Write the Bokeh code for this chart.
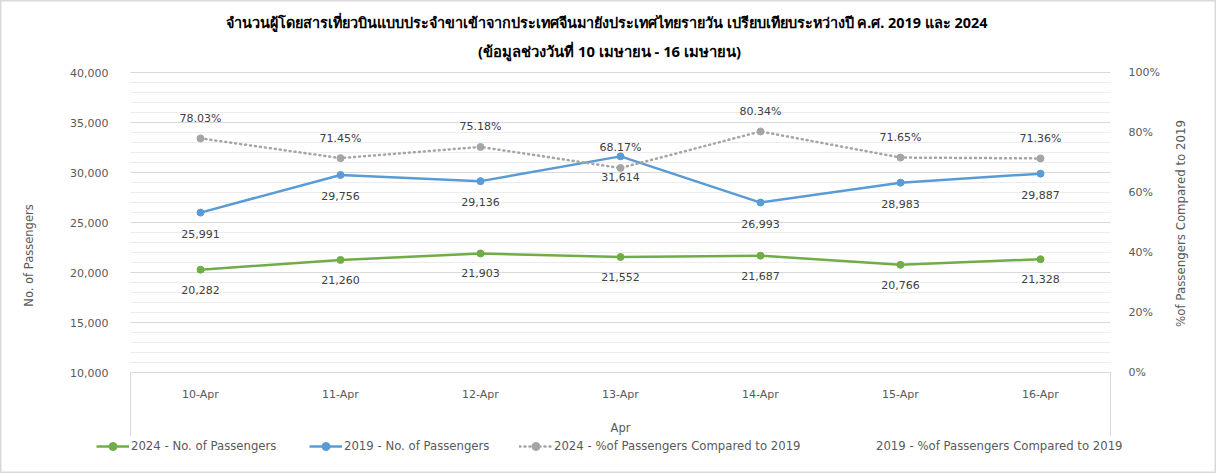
import math
from bokeh.plotting import figure
from bokeh.models import (Range1d, LinearAxis, FixedTicker, NumeralTickFormatter,
                          PrintfTickFormatter, Label, Legend, LegendItem, ColumnDataSource)
from bokeh.core.properties import value
from bokeh.embed import file_html
from bokeh.resources import INLINE

# ---------------- data ----------------
days = ["10-Apr", "11-Apr", "12-Apr", "13-Apr", "14-Apr", "15-Apr", "16-Apr"]
pax_2024 = [20282, 21260, 21903, 21552, 21687, 20766, 21328]
pax_2019 = [25991, 29756, 29136, 31614, 26993, 28983, 29887]
pct_2024 = [78.03, 71.45, 75.18, 68.17, 80.34, 71.65, 71.36]
left_ticks = [10000, 15000, 20000, 25000, 30000, 35000, 40000]
right_ticks = [0, 20, 40, 60, 80, 100]
title_1 = "จำนวนผู้โดยสารเที่ยวบินแบบประจำขาเข้าจากประเทศจีนมายังประเทศไทยรายวัน  เปรียบเทียบระหว่างปี ค.ศ. 2019 และ 2024"
title_2 = "(ข้อมูลช่วงวันที่ 10 เมษายน - 16 เมษายน)"
x_title = "Apr"
y_title = "No. of Passengers"
y2_title = "%of Passengers Compared to 2019"
legend_labels = ["2024 - No. of Passengers", "2019 - No. of Passengers",
                 "2024 - %of Passengers Compared to 2019", "2019 - %of Passengers Compared to 2019"]

GREEN = "#70AD47"
BLUE = "#5B9BD5"
GRAY = "#A5A5A5"
TXT = "#404040"
AX = "#595959"
FONT = "DejaVu Sans"

xs = [i + 0.5 for i in range(len(days))]
src = ColumnDataSource(dict(
    x=xs, day=days, p24=pax_2024, p19=pax_2019, pct=pct_2024,
    p24_lbl=[f"{v:,}" for v in pax_2024],
    p19_lbl=[f"{v:,}" for v in pax_2019],
    pct_lbl=[f"{v:.2f}%" for v in pct_2024],
))

W, H = 1216, 473
# plot box: category 0 at px 130, category 7 at px 1110 ; 10000 at py 372, 40000 at py 72
X0, X1, YB, YT = 130, 1110, 372, 72
ux = (X1 - X0) / 7.0
uy = (YB - YT) / 30000.0
up = (YB - YT) / 100.0
x_range = Range1d(-X0 / ux, 7 + (W - X1) / ux)
y_range = Range1d(10000 - (H - YB) / uy, 40000 + YT / uy)
pct_range = Range1d(0 - (H - YB) / up, 100 + YT / up)

def yv(py):  # pixel row -> left-axis value (for decorations only)
    return 10000 - (py - YB) / uy

p = figure(width=W, height=H, output_backend="svg", toolbar_location=None,
           x_range=x_range, y_range=y_range,
           x_axis_location=None, y_axis_location=None, min_border=0,
           outline_line_color="#D9D9D9", outline_line_width=2,
           background_fill_color="white", border_fill_color="white")
p.xgrid.visible = False
p.ygrid.visible = False
p.extra_y_ranges = {"pct": pct_range}

# gridlines (minor then major)
minor = [v for v in range(11000, 40000, 1000) if v % 5000 != 0]
p.segment(x0=0, x1=7, y0=minor, y1=minor, line_color="#ECECEC", line_width=1)
p.segment(x0=0, x1=7, y0=left_ticks, y1=left_ticks, line_color="#D9D9D9", line_width=1)

# axes fixed at the plot box edges
yax = LinearAxis(ticker=FixedTicker(ticks=left_ticks), formatter=NumeralTickFormatter(format="0,0"),
                 fixed_location=0)
y2ax = LinearAxis(y_range_name="pct", ticker=FixedTicker(ticks=right_ticks),
                  formatter=PrintfTickFormatter(format="%d%%"), fixed_location=7)
for ax, so in ((yax, 22), (y2ax, 18)):
    ax.axis_line_color = None
    ax.major_tick_line_color = None
    ax.minor_tick_line_color = None
    ax.major_tick_out = 0
    ax.major_tick_in = 0
    ax.minor_tick_out = 0
    ax.major_label_standoff = so
    ax.major_label_text_font = FONT
    ax.major_label_text_font_size = "11px"
    ax.major_label_text_color = AX
p.add_layout(yax, "left")
p.add_layout(y2ax, "right")

# category box
p.segment(x0=[0, 7, 0], y0=[10000, 10000, 10000], x1=[0, 7, 7], y1=[yv(436), yv(436), 10000],
          line_color="#D9D9D9", line_width=1)
p.text(x="x", y=yv(394), text="day", source=src, text_align="center", text_baseline="middle",
       text_font=value(FONT), text_font_size="11px", text_color=AX)

# series
l24 = p.line("x", "p24", source=src, line_color=GREEN, line_width=2.5)
s24 = p.scatter("x", "p24", source=src, size=7, fill_color=GREEN, line_color=GREEN)
l19 = p.line("x", "p19", source=src, line_color=BLUE, line_width=2.5)
s19 = p.scatter("x", "p19", source=src, size=7, fill_color=BLUE, line_color=BLUE)
lp = p.line("x", "pct", source=src, y_range_name="pct", line_color=GRAY, line_width=2.5,
            line_dash="1 4", line_cap="round")
sp = p.scatter("x", "pct", source=src, y_range_name="pct", size=7, fill_color=GRAY, line_color=GRAY)
empty = p.line(x=[], y=[], line_alpha=0)

lbl_kw = dict(text_align="center", text_baseline="middle", text_font=value(FONT),
              text_font_size="11px", text_color=TXT)
p.text("x", "p24", text="p24_lbl", source=src, y_offset=20, **lbl_kw)
p.text("x", "p19", text="p19_lbl", source=src, y_offset=21, **lbl_kw)
p.text("x", "pct", text="pct_lbl", source=src, y_range_name="pct", y_offset=-20, **lbl_kw)

# legends (one per item, positioned like the reference)
leg_pos = [96, 309, 519, 841]
leg_rend = [[l24, s24], [l19, s19], [lp, sp], [empty]]
for lab, rends, px in zip(legend_labels, leg_rend, leg_pos):
    lg = Legend(items=[LegendItem(label=lab, renderers=rends)], location=(px, H - 456),
                orientation="horizontal", padding=0, margin=0, spacing=0,
                glyph_width=33, glyph_height=20, label_standoff=2,
                label_text_font=FONT, label_text_font_size="11.7px", label_text_color=AX,
                border_line_color=None, background_fill_alpha=0)
    p.add_layout(lg, "center")

# texts placed in screen pixels (frame == whole canvas)
def sl(text, px, py, size, bold=False, angle=0, color=AX, font=FONT):
    p.add_layout(Label(x=px, y=H - py, x_units="screen", y_units="screen", text=text,
                       text_align="center", text_baseline="middle", angle=angle,
                       text_font=font, text_font_size=size, text_color=color,
                       text_font_style="bold" if bold else "normal"))

sl(title_1, 608, 22, "14.4px", bold=True, color="#000000", font="Noto Sans")
sl(title_2, 609, 50, "14.8px", bold=True, color="#000000", font="Noto Sans")
sl(x_title, 620, 427, "11.5px")
sl(y_title, 28, 255, "11.5px", angle=math.pi / 2)
sl(y2_title, 1180, 223, "11.8px", angle=math.pi / 2)

open("out.html", "w").write(file_html(p, INLINE))
